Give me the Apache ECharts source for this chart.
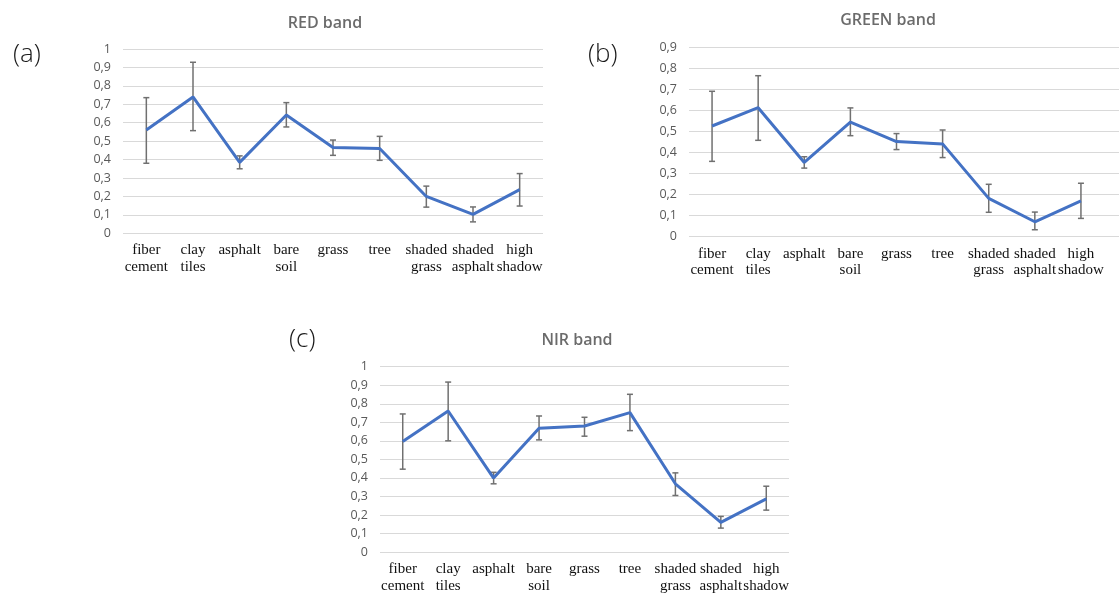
<!DOCTYPE html>
<html>
<head>
<meta charset="utf-8">
<script src="https://cdn.jsdelivr.net/npm/echarts@6/dist/echarts.min.js"></script>
<style>html,body{margin:0;padding:0;background:#fff;}#c{width:1119px;height:594px;}</style>
</head>
<body>
<div id="c"></div>
<script>
const categories = ['fiber\ncement','clay\ntiles','asphalt','bare\nsoil','grass','tree','shaded\ngrass','shaded\nasphalt','high\nshadow'];

const redMean = [0.56, 0.74, 0.385, 0.642, 0.465, 0.46, 0.2, 0.103, 0.237];
const redLow  = [0.38, 0.557, 0.35, 0.577, 0.423, 0.396, 0.142, 0.062, 0.148];
const redHigh = [0.736, 0.928, 0.42, 0.709, 0.506, 0.526, 0.256, 0.143, 0.324];

const greenMean = [0.526, 0.613, 0.353, 0.545, 0.452, 0.441, 0.182, 0.071, 0.17];
const greenLow  = [0.358, 0.458, 0.326, 0.48, 0.414, 0.376, 0.116, 0.033, 0.087];
const greenHigh = [0.691, 0.765, 0.38, 0.612, 0.49, 0.507, 0.249, 0.117, 0.254];

const nirMean = [0.596, 0.761, 0.399, 0.668, 0.68, 0.752, 0.368, 0.16, 0.287];
const nirLow  = [0.447, 0.6, 0.368, 0.605, 0.625, 0.655, 0.305, 0.129, 0.226];
const nirHigh = [0.745, 0.917, 0.43, 0.734, 0.727, 0.851, 0.427, 0.192, 0.355];

const titles = ['RED band', 'GREEN band', 'NIR band'];
const panelLabels = ['(a)', '(b)', '(c)'];
const yMax = [1, 0.9, 1];

const chart = echarts.init(document.getElementById('c'));

const grids = [
  {left: 123, top: 49, width: 420, height: 184.3},
  {left: 689, top: 47.3, width: 415, height: 189.4},
  {left: 380, top: 366.7, width: 409, height: 185.6},
  {left: 689, top: 47.3, width: 430, height: 189.4}
];

function yFmt(v) {
  if (Math.abs(v) < 1e-9) return '0';
  if (Math.abs(v - 1) < 1e-9) return '1';
  return v.toFixed(1).replace('.', ',');
}

const xAxes = [0,1,2,3].map(i => ({
  type: 'category', gridIndex: i, data: categories, boundaryGap: true,
  show: i !== 3,
  axisLine: {show: false}, axisTick: {show: false},
  axisLabel: {interval: 0, margin: 9, color: '#111', fontFamily: 'Liberation Serif', fontSize: 15, lineHeight: 16.5}
}));

const yAxes = [0,1,2,3].map(i => ({
  type: 'value', gridIndex: i, min: 0, max: yMax[i === 3 ? 1 : i], interval: 0.1,
  axisLine: {show: false}, axisTick: {show: false},
  axisLabel: {show: i !== 3, formatter: yFmt, color: '#595959', fontFamily: 'Open Sans', fontSize: 12.5, margin: 12},
  splitLine: {show: i !== 1, lineStyle: {color: '#d9d9d9', width: 1}}
}));

function errSeries(idx, low, high) {
  return {
    type: 'custom', xAxisIndex: idx, yAxisIndex: idx, z: 2,
    data: low.map((l, i) => [i, l, high[i]]),
    renderItem: function (params, api) {
      const lo = api.coord([api.value(0), api.value(1)]);
      const hi = api.coord([api.value(0), api.value(2)]);
      const w = 3;
      const st = {stroke: '#707070', lineWidth: 1.5};
      return {type: 'group', children: [
        {type: 'line', shape: {x1: lo[0], y1: lo[1], x2: hi[0], y2: hi[1]}, style: st},
        {type: 'line', shape: {x1: lo[0]-w, y1: lo[1], x2: lo[0]+w, y2: lo[1]}, style: st},
        {type: 'line', shape: {x1: hi[0]-w, y1: hi[1], x2: hi[0]+w, y2: hi[1]}, style: st}
      ]};
    }
  };
}
function lineSeries(idx, mean) {
  return {
    type: 'line', xAxisIndex: idx, yAxisIndex: idx, z: 3, data: mean,
    showSymbol: false, symbol: 'none',
    lineStyle: {color: '#4472c4', width: 3}, itemStyle: {color: '#4472c4'}
  };
}

const titlePos = [[320, 10], [883, 7], [572, 327]];
const labelPos = [[8, 37], [583, 37], [284, 322]];

chart.setOption({
  animation: false,
  title: titles.map((t, i) => ({
    text: t, left: titlePos[i][0], top: titlePos[i][1], textAlign: 'center',
    textStyle: {color: '#6b6b6b', fontFamily: 'Open Sans', fontSize: 16, fontWeight: 600}
  })).concat(panelLabels.map((t, i) => ({
    text: t, left: labelPos[i][0], top: labelPos[i][1],
    textStyle: {color: '#1a1a1a', fontFamily: 'Open Sans', fontSize: 26, fontWeight: 300}
  }))),
  grid: grids,
  xAxis: xAxes,
  yAxis: yAxes,
  series: [
    errSeries(0, redLow, redHigh), lineSeries(0, redMean),
    errSeries(1, greenLow, greenHigh), lineSeries(1, greenMean),
    errSeries(2, nirLow, nirHigh), lineSeries(2, nirMean)
  ]
});
</script>
</body>
</html>
